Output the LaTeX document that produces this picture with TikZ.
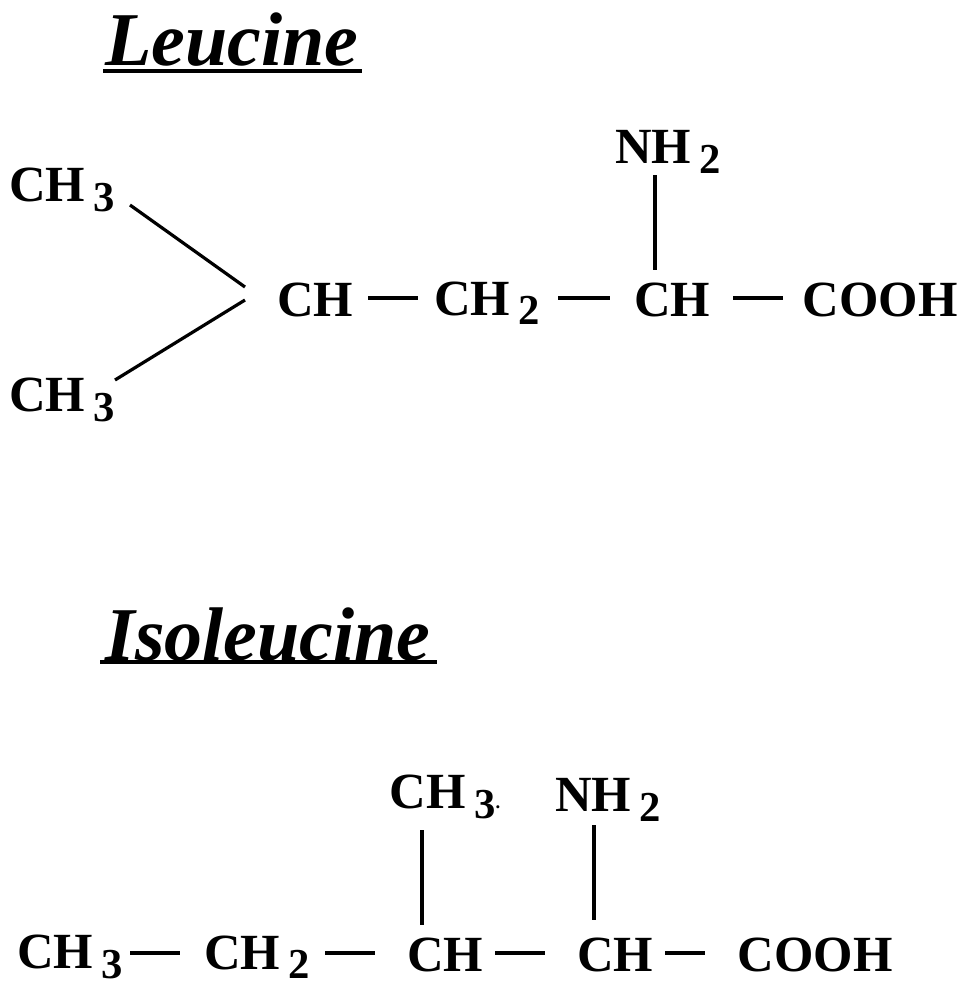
\documentclass[tikz,border=0pt]{standalone}
\usepackage{fontspec}
\setmainfont{Liberation Serif}
\newcommand{\subn}[1]{\,\raisebox{-0.4ex}{\fontsize{32}{32}\selectfont #1}}
\begin{document}
\begin{tikzpicture}[x=0.75pt,y=-0.75pt,
  atom/.style={font=\fontsize{38}{40}\selectfont\bfseries, inner sep=0pt},
  ttl/.style={font=\fontsize{57}{60}\selectfont\bfseries\itshape, inner sep=0pt},
  bond/.style={line width=2.4pt}]
\useasboundingbox (0,0) rectangle (968,990);
\node[ttl] (t1) at (232,40) {Leucine};
\draw[line width=2.6pt] (103,71) -- (362,71);
\node[atom] (a1) at (62,190) {CH\subn3};
\node[atom] (a2) at (62,400) {CH\subn3};
\node[atom] (a3) at (315,300) {CH};
\node[atom] (a4) at (487,303) {CH\subn2};
\node[atom] (a5) at (672,300) {CH};
\node[atom] (a6) at (880,300) {COOH};
\node[atom] (a7) at (668,152) {NH\subn2};
\draw[bond] (130,205) -- (245,287);
\draw[bond] (115,380) -- (245,300);
\draw[bond] (368,298) -- (418,298);
\draw[bond] (558,298) -- (610,298);
\draw[bond] (733,298) -- (783,298);
\draw[bond] (655,175) -- (655,270);
\node[ttl] (t2) at (268,635) {Isoleucine};
\draw[line width=2.6pt] (100,662) -- (437,662);
\node[atom] (b1) at (70,957) {CH\subn3};
\node[atom] (b2) at (257,957) {CH\subn2};
\node[atom] (b3) at (445,955) {CH};
\node[atom] (b4) at (615,955) {CH};
\node[atom] (b5) at (815,955) {COOH};
\node[atom] (b6) at (445,797) {CH\subn3{\fontsize{14}{14}\selectfont.}};
\node[atom] (b7) at (608,800) {NH\subn2};
\draw[bond] (130,953) -- (180,953);
\draw[bond] (325,953) -- (375,953);
\draw[bond] (495,953) -- (545,953);
\draw[bond] (665,953) -- (705,953);
\draw[bond] (422,830) -- (422,925);
\draw[bond] (594,825) -- (594,920);
\end{tikzpicture}
\end{document}
